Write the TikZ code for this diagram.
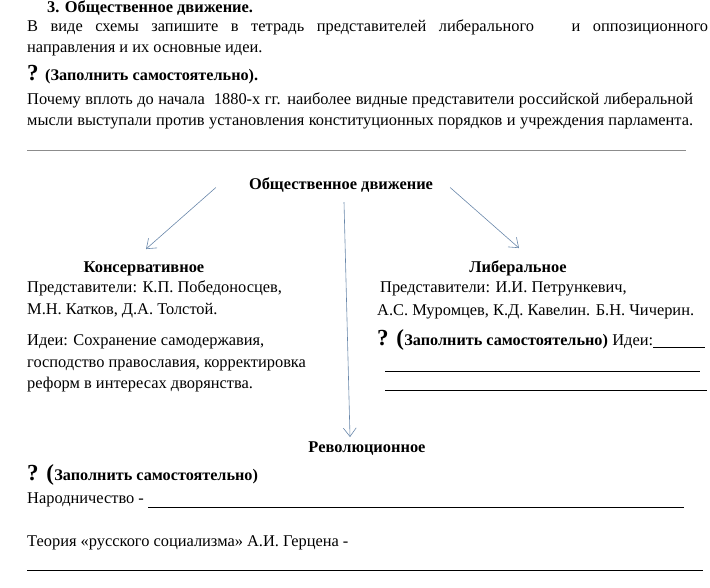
\documentclass[tikz,border=0pt]{standalone}
\usepackage{fontspec}
\setmainfont{Liberation Serif}
\usepackage{xcolor}
\usetikzlibrary{arrows.meta,calc}
\definecolor{arrblue}{RGB}{105,135,170}

\begin{document}
\begin{tikzpicture}[x=1pt,y=-1pt,
  txt/.style={anchor=base west, inner sep=0pt, font=\fontsize{16.4}{19}\selectfont},
  head/.style={anchor=base, inner sep=0pt, font=\fontsize{16.4}{19}\selectfont\bfseries},
  ask/.style={anchor=base west, inner sep=0pt, font=\fontsize{16.2}{18}\selectfont\bfseries},
  qmark/.style={anchor=base west, inner sep=0pt, font=\fontsize{23}{25}\selectfont\bfseries},
  arr/.style={-{Straight Barb[length=3mm,width=4.5mm]}, line width=0.6pt, arrblue},
  blank/.style={line width=0.7pt, black},
]
\useasboundingbox (0,0) rectangle (710,588);

% --- task text ---
\node[head, anchor=base west] (task) at (47,12.5) {3. Общественное движение.};
\node[txt] (intro1) at (27,32) {\makebox[681pt][s]{В виде схемы запишите в тетрадь представителей либерального\ \ \ и оппозиционного}};
\node[txt] (intro2) at (27,53) {направления и их основные идеи.};
\node[qmark] (q1) at (27,81) {?};
\node[ask] (ask1) at (45,81) {(Заполнить самостоятельно).};
\node[txt] (why1) at (27,105) {\makebox[666pt][s]{Почему вплоть до начала\ \ 1880-х гг. наиболее видные представители российской либеральной}};
\node[txt] (why2) at (27,126) {\makebox[666pt][s]{мысли выступали против установления конституционных порядков и учреждения парламента.}};
\draw[black!45, line width=0.8pt] (27,150) -- (686,150);

% --- scheme ---
\node[head] (soc)  at (341,190) {Общественное движение};
\node[head] (cons) at (144,273) {Консервативное};
\node[head] (lib)  at (518,273) {Либеральное};
\node[head] (rev)  at (367,452) {Революционное};

\draw[arr] ($(soc.west)+(-33,2)$) -- ($(cons.north)+(2,-13)$);
\draw[arr] ($(soc.east)+(17,2)$) -- ($(lib.north)+(1,-13)$);
\draw[arr] ($(soc.south)+(3,9)$) -- ($(rev.north)+(-17,-4)$);

% conservative branch
\node[txt] (consrep1) at (27,293) {Представители: К.П. Победоносцев,};
\node[txt] (consrep2) at (27,315) {М.Н. Катков, Д.А. Толстой.};
\node[txt] (consid1)  at (27,345) {Идеи: Сохранение самодержавия,};
\node[txt] (consid2)  at (27,367) {господство православия, корректировка};
\node[txt] (consid3)  at (27,388) {реформ в интересах дворянства.};

% liberal branch
\node[txt] (librep1) at (380,293) {Представители: И.И. Петрункевич,};
\node[txt] (librep2) at (377,316) {А.С. Муромцев, К.Д. Кавелин. Б.Н. Чичерин.};
\node[qmark] (q2) at (377,345) {? (};
\node[ask] (ask2) at (q2.base east) {Заполнить самостоятельно)};
\node[txt] (libidea) at ($(ask2.base east)+(4,0)$) {Идеи:};
\draw[blank] ($(libidea.base east)+(0,2)$) -- (705,347);
\draw[blank] (385,371) -- (700,371);
\draw[blank] (385,390) -- (707,390);

% revolutionary branch
\node[qmark] (q3) at (27,480) {? (};
\node[ask] (ask3) at (q3.base east) {Заполнить самостоятельно)};
\node[txt] (narod) at (27,503) {Народничество -};
\draw[blank] (148,507) -- (684,507);
\node[txt] (herzen) at (27,546) {Теория «русского социализма» А.И. Герцена -};
\draw[blank] (27,570) -- (703,570);

\end{tikzpicture}
\end{document}
